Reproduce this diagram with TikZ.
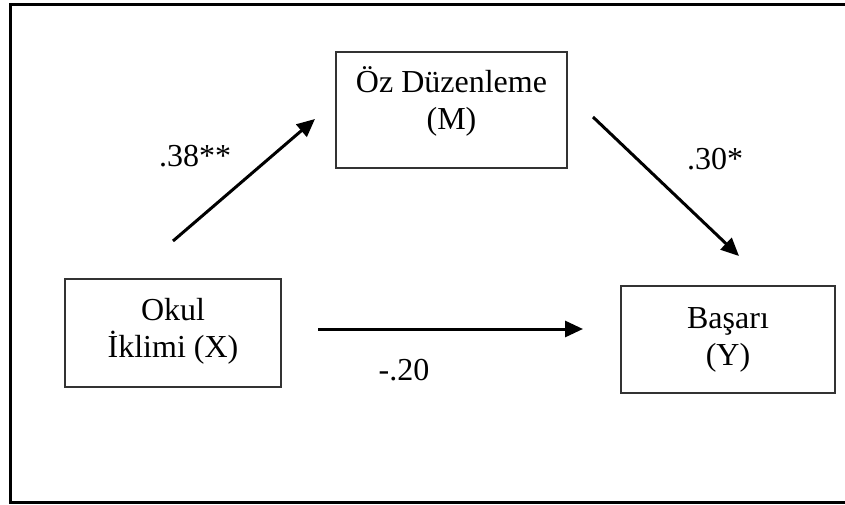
\documentclass[tikz,border=0pt]{standalone}
\usepackage{fontspec}
\setmainfont{Liberation Serif}
\usetikzlibrary{arrows.meta}
\definecolor{boxline}{HTML}{333333}
\tikzset{
  varbox/.style={draw=boxline, line width=1.6pt, rectangle, inner sep=0pt},
  vartext/.style={align=center, anchor=base, inner sep=0pt,
    font=\fontsize{32}{37}\selectfont},
  coef/.style={anchor=base, inner sep=0pt, font=\fontsize{32}{37}\selectfont},
  path/.style={line width=3pt, -{Triangle[length=18pt,width=16pt]}}
}
\begin{document}
\begin{tikzpicture}[x=1pt,y=-1pt]
  \useasboundingbox (0,0) rectangle (845,505);
  % outer frame
  \draw[line width=3pt] (10,4.5) rectangle (849,502.5);

  % variable boxes
  \node[varbox, minimum width=216pt, minimum height=108pt] (X) at (173,333) {};
  \node[varbox, minimum width=231pt, minimum height=116pt] (M) at (451.5,110) {};
  \node[varbox, minimum width=214pt, minimum height=107pt] (Y) at (728,339.5) {};

  % box labels (anchored at the baseline of the last line)
  \node[vartext] (Xt) at (173,357) {Okul\\İklimi (X)};
  \node[vartext] (Mt) at (451.5,130) {Öz Düzenleme\\(M)};
  \node[vartext] (Yt) at (728,365) {Başarı\\(Y)};

  % arrow end points between the boxes
  \coordinate (a1) at (173,241);
  \coordinate (a2) at (315,119);
  \coordinate (b1) at (593,117);
  \coordinate (b2) at (739,256);
  \coordinate (c1) at (318,329);
  \coordinate (c2) at (583,329);

  \draw[path] (a1) -- (a2);
  \draw[path] (b1) -- (b2);
  \draw[path] (c1) -- (c2);

  % path coefficients
  \node[coef] (ca) at (195,167) {.38**};
  \node[coef] (cb) at (715,170) {.30*};
  \node[coef] (cc) at (404,380) {-.20};
\end{tikzpicture}
\end{document}
